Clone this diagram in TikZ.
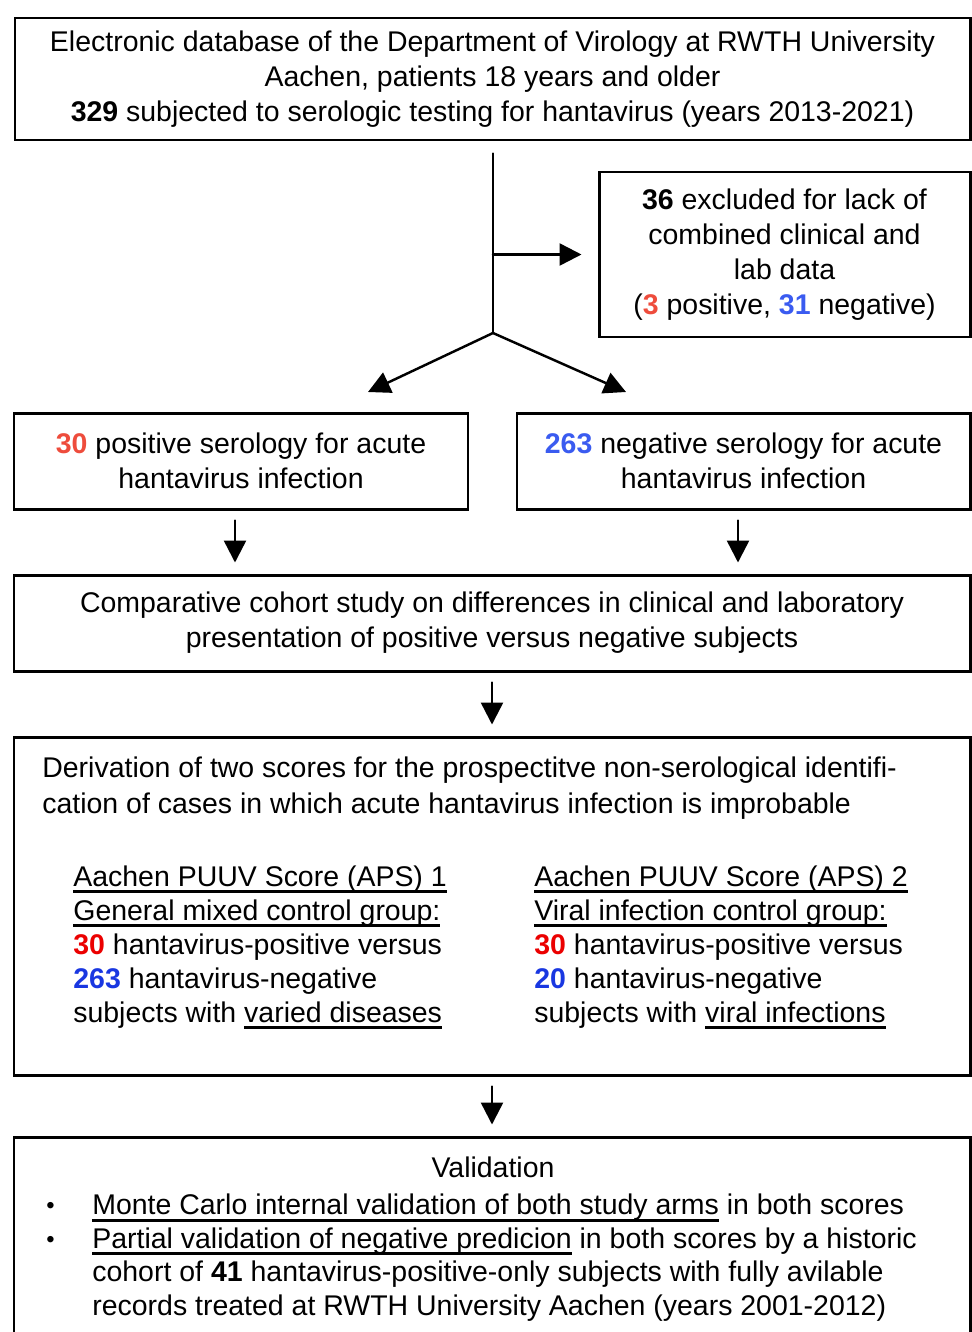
\documentclass[tikz,border=0pt]{standalone}
\usepackage{fontspec}
\setmainfont{Liberation Sans}
\usetikzlibrary{arrows.meta, positioning}
\tikzset{>={Triangle[length=0.44cm,width=0.44cm]}}
\definecolor{posred}{RGB}{238,76,60}
\definecolor{negblue}{RGB}{58,91,240}
\definecolor{scorered}{RGB}{235,0,0}
\definecolor{scoreblue}{RGB}{25,55,225}
\newcommand{\ulbox}[1]{\leavevmode\setbox0=\hbox{#1}\rlap{\rule[-3.8pt]{\wd0}{1.7pt}}\box0\relax}
\newcommand{\valbullet}{\makebox[0.92cm][l]{\raisebox{0.5pt}{\fontsize{13.5pt}{13.5pt}\selectfont\textbullet}}}

\begin{document}
\begin{tikzpicture}[
  txt/.style={font=\fontsize{16.2pt}{20pt}\selectfont},
  box/.style={rectangle,draw=black,line width=1.7pt,align=center,inner sep=0pt,txt},
  arr/.style={->,line width=1.4pt,line cap=round},
  gap/.style={shorten <=0.2cm,shorten >=0.22cm}]
\useasboundingbox (0,0) rectangle (19.42,-26.64);
      \node (top) at (9.85,-1.58)[box,minimum width=19.1cm,minimum height=2.44cm]
      {Electronic database of the Department of Virology at RWTH University\\
      Aachen, patients 18 years and older\\
      \textbf{329} subjected to serologic testing for hantavirus (years 2013-2021)};
      \node (excl) at (15.69,-5.09)[box,minimum width=7.42cm,minimum height=3.3cm]
      {\textbf{36} excluded for lack of\\combined clinical and\\lab data\\
      (\textbf{\color{posred}3} positive, \textbf{\color{negblue}31} negative)};
      \node (posbox) at (4.82,-9.22)[box,minimum width=9.08cm,minimum height=1.92cm]
      {\textbf{\color{posred}30} positive serology for acute\\hantavirus infection};
      \node (negbox) at (14.87,-9.22)[box,minimum width=9.06cm,minimum height=1.92cm]
      {\textbf{\color{negblue}263} negative serology for acute\\hantavirus infection};
      \node (comp) at (9.84,-12.46)[box,minimum width=19.12cm,minimum height=1.92cm]
      {Comparative cohort study on differences in clinical and laboratory\\
      presentation of positive versus negative subjects};
      \node (deriv) at (9.84,-18.12)[box,minimum width=19.12cm,minimum height=6.76cm] {};
      % base of a multi-line node = baseline of its last line
      \node (derivhead) at (0.84,-16.26)[txt,anchor=base west,align=left,inner sep=0pt]
      {Derivation of two scores for the prospectitve non-serological identifi-\\
      cation of cases in which acute hantavirus infection is improbable};
      \node (aps1) at (1.46,-20.44)[txt,anchor=base west,align=left,inner sep=0pt,
      font=\fontsize{16.2pt}{19.3pt}\selectfont]
      {\ulbox{Aachen PUUV Score (APS) 1}\\
      \ulbox{General mixed control group:}\\
      \textbf{\color{scorered}30} hantavirus-positive versus\\
      \textbf{\color{scoreblue}263} hantavirus-negative\\
      subjects with \ulbox{varied diseases}};
      \node (aps2) at (10.68,-20.44)[txt,anchor=base west,align=left,inner sep=0pt,
      font=\fontsize{16.2pt}{19.3pt}\selectfont]
      {\ulbox{Aachen PUUV Score (APS) 2}\\
      \ulbox{Viral infection control group:}\\
      \textbf{\color{scorered}30} hantavirus-positive versus\\
      \textbf{\color{scoreblue}20} hantavirus-negative\\
      subjects with \ulbox{viral infections}};
      \node (valid) at (9.84,-24.87)[box,minimum width=19.12cm,minimum height=4.26cm] {};
      \node (valtitle) at (9.86,-23.54)[txt,anchor=base,inner sep=0pt] {Validation};
      \node (valitems) at (0.92,-26.30)[txt,anchor=base west,align=left,inner sep=0pt,
      font=\fontsize{16.2pt}{19pt}\selectfont]
      {\valbullet\ulbox{Monte Carlo internal validation of both study arms} in both scores\\
      \valbullet\ulbox{Partial validation of negative predicion} in both scores by a historic\\
      \hspace*{0.92cm}cohort of \textbf{41} hantavirus-positive-only subjects with fully avilable\\
      \hspace*{0.92cm}records treated at RWTH University Aachen (years 2001-2012)};
      \coordinate (split) at (9.86,-6.66);
      \coordinate (postip) at (7.36,-7.84);
      \coordinate (negtip) at (12.52,-7.84);
        \draw [line width=1.4pt,line cap=round,shorten <=0.24cm] (top.south -| split) -- (split);
        \draw [arr,shorten >=0.32cm] (split |- excl.west) -- (excl.west);
        \draw [arr] (split) -- (postip);
        \draw [arr] (split) -- (negtip);
        \draw [arr,gap] ([xshift=-0.12cm]posbox.south) -- ([xshift=-0.12cm]posbox.south |- comp.north);
        \draw [arr,gap] ([xshift=-0.11cm]negbox.south) -- ([xshift=-0.11cm]negbox.south |- comp.north);
        \draw [arr,gap] (comp.south) -- (deriv.north);
        \draw [arr,gap] (deriv.south) -- (valid.north);
\end{tikzpicture}
\end{document}
